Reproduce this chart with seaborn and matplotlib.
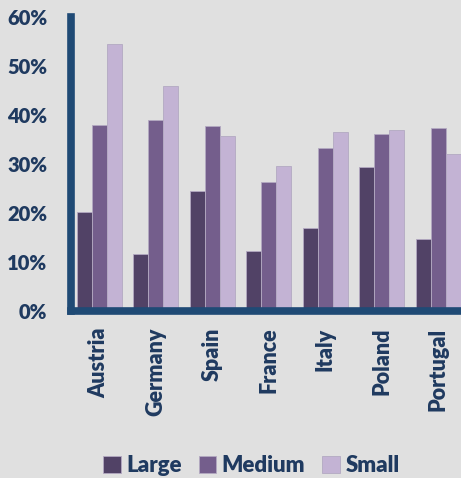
import pandas as pd
import numpy as np
import matplotlib.pyplot as plt
import seaborn as sns

# ---------------- Data -----------------

countries = ["Austria", "Germany", "Spain", "France", "Italy", "Poland", "Portugal"]
sizes = ["Large", "Medium", "Small"]

large = [20.2, 11.6, 24.4, 12.2, 16.9, 29.4, 14.6]
medium = [38.0, 38.9, 37.8, 26.3, 33.2, 36.1, 37.3]
small = [54.5, 45.9, 35.7, 29.6, 36.5, 36.9, 32.0]

yticks = [0, 0.1, 0.2, 0.3, 0.4, 0.5, 0.6]
ytick_labels = ["0%", "10%", "20%", "30%", "40%", "50%", "60%"]

colors = ["#514266", "#745e8c", "#c3b3d4"]
navy = "#1f4a75"
text_col = "#1f3a60"
bg = "#e0e0e0"

# long format table for seaborn
rows = []
for name, vals in zip(sizes, [large, medium, small]):
    for c, v in zip(countries, vals):
        rows.append({"country": c, "size": name, "share": v / 100})
df = pd.DataFrame(rows)

# ---------------- Plot -----------------

sns.set_style("white")
plt.rcParams["font.family"] = ["Lato", "DejaVu Sans"]

fig = plt.figure(figsize=(4.61, 4.78), dpi=100, facecolor=bg)
ax = fig.add_axes([71 / 461, 1 - 311 / 478, 390 / 461, 294 / 478])
ax.set_facecolor(bg)

sns.barplot(
    data=df, x="country", y="share", hue="size",
    palette=colors, width=0.8, ax=ax,
    edgecolor="#b3a9c2", linewidth=0.6, saturation=1,
)

ax.set_xlim(-0.5, 6.4)
ax.set_ylim(0, 0.6)
ax.set_yticks(yticks)
ax.set_yticklabels(ytick_labels)
ax.set_xlabel("")
ax.set_ylabel("")

ax.tick_params(axis="both", length=0, colors=text_col)
ax.tick_params(axis="y", pad=17, labelsize=14.5)
ax.tick_params(axis="x", pad=12, labelsize=15.5)
for lab in ax.get_yticklabels():
    lab.set_fontweight("heavy")
for lab in ax.get_xticklabels():
    lab.set_fontweight("heavy")
    lab.set_rotation(90)
    lab.set_va("top")
    lab.set_ha("center")

for s in ["top", "right"]:
    ax.spines[s].set_visible(False)
for s in ["left", "bottom"]:
    ax.spines[s].set_color(navy)
    ax.spines[s].set_linewidth(5.5)

ax.legend_.remove()
handles, labels = ax.get_legend_handles_labels()
leg = fig.legend(
    handles, labels, loc="lower center", bbox_to_anchor=(0.545, -0.038),
    ncol=3, frameon=False, handlelength=0.8, handleheight=0.8,
    handletextpad=0.25, columnspacing=0.75,
    prop={"size": 16, "weight": "heavy"},
)
for t in leg.get_texts():
    t.set_color(text_col)

fig.savefig("out.png", dpi=100, facecolor=bg)
